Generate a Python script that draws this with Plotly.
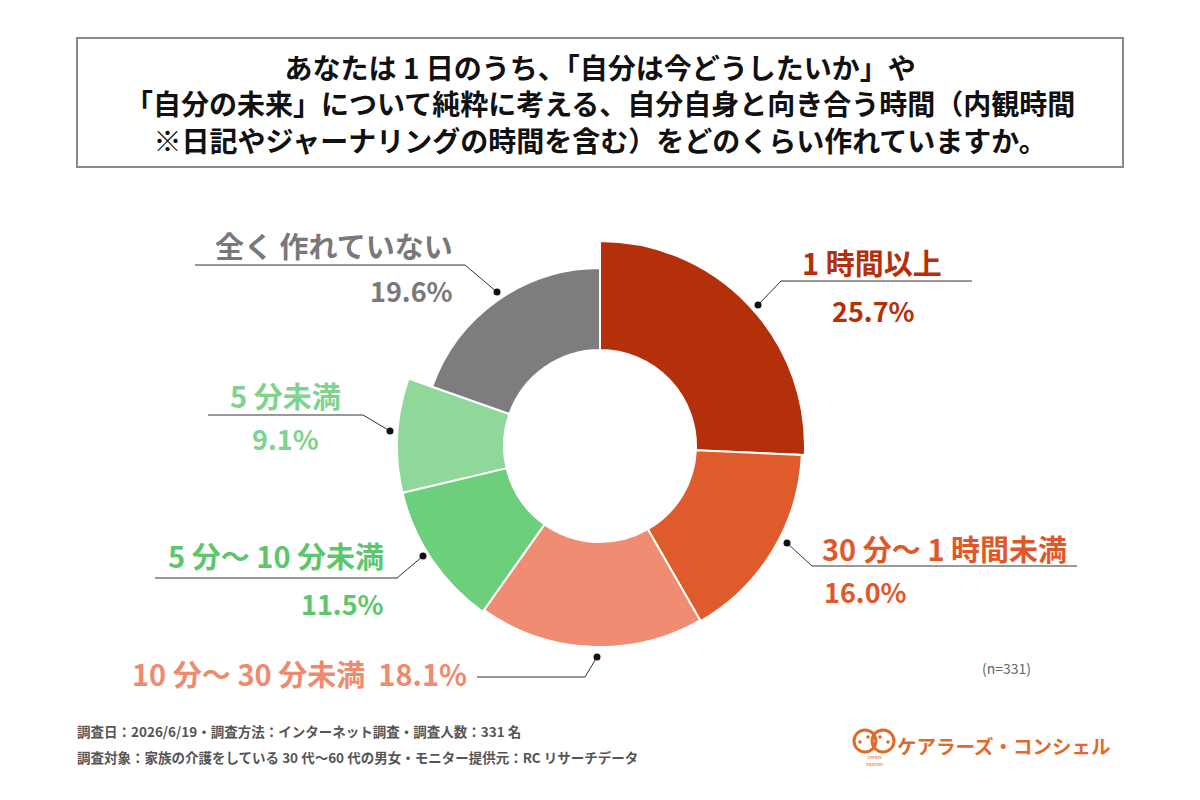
import plotly.graph_objects as go

# ---------------- data ----------------
CATEGORIES = ["1 時間以上", "30 分～ 1 時間未満", "10 分～ 30 分未満",
              "5 分～ 10 分未満", "5 分未満", "全く 作れていない"]
VALUES = [25.7, 16.0, 18.1, 11.5, 9.1, 19.6]
N_RESP = 331

TITLE_LINES = [
    "あなたは 1 日のうち、「自分は今どうしたいか」や",
    "「自分の未来」について純粋に考える、自分自身と向き合う時間（内観時間",
    "※日記やジャーナリングの時間を含む）をどのくらい作れていますか。",
]
FOOTER_LINES = [
    "調査日：2026/6/19・調査方法：インターネット調査・調査人数：331 名",
    "調査対象：家族の介護をしている 30 代～60 代の男女・モニター提供元：RC リサーチデータ",
]

# ---------------- style ----------------
W, H = 1200, 800
FONT = "Noto Sans CJK JP"
SLICE_COLORS = ["#b3300b", "#df5b2c", "#ef8c71", "#6dcf7c", "#8fd899", "#7f7c7f"]
LABEL_COLORS = ["#b3300b", "#e0582a", "#ef8a6c", "#5cc66b", "#7ed38d", "#7a787a"]
OUTER_R = [205, 202, 201, 203, 203, 178]   # pixel radius of each slice
INNER_R = 96
CX, CY, RBOX = 600, 446, 220


def px(x, y):
    return x / W, 1 - y / H


# angles
cum = 0
thetas, widths = [], []
for v in VALUES:
    thetas.append((cum + v / 2) * 3.6)
    widths.append(v * 3.6)
    cum += v

fig = go.Figure()
fig.add_trace(go.Barpolar(
    theta=thetas,
    width=widths,
    base=[INNER_R] * len(VALUES),
    r=[o - INNER_R for o in OUTER_R],
    marker=dict(color=SLICE_COLORS, line=dict(color="white", width=2)),
    hoverinfo="skip",
    showlegend=False,
))

x0, y1 = px(CX - RBOX, CY - RBOX)
x1, y0 = px(CX + RBOX, CY + RBOX)
fig.update_layout(
    width=W, height=H,
    margin=dict(l=0, r=0, t=0, b=0),
    paper_bgcolor="white",
    plot_bgcolor="white",
    font=dict(family=FONT),
    polar=dict(
        domain=dict(x=[x0, x1], y=[y0, y1]),
        bgcolor="white",
        radialaxis=dict(range=[0, RBOX], visible=False, showgrid=False),
        angularaxis=dict(rotation=90, direction="clockwise", visible=False,
                         showgrid=False, thetaunit="degrees"),
        bargap=0,
    ),
)

annotations = []
shapes = []

# title box
bx0, by0 = px(77, 38)
bx1, by1 = px(1123, 167)
shapes.append(dict(type="rect", xref="paper", yref="paper", x0=bx0, x1=bx1, y0=by1, y1=by0,
                   line=dict(color="#8a8a8a", width=2), fillcolor="rgba(0,0,0,0)"))
xx, yp = px(600, 103)
annotations.append(dict(x=xx, y=yp, xref="paper", yref="paper",
                        text="<br>".join(f"<b>{t}</b>" for t in TITLE_LINES),
                        showarrow=False, xanchor="center", yanchor="middle", align="center",
                        font=dict(size=28, color="#111111", family=FONT)))

# label layout: (name pos, pct pos, leader path points)
LABEL_LAYOUT = [
    dict(name=(872, 262, "center"), pct=(873, 311, "center"),
         path=[(758, 305), (781, 281), (972, 281)]),
    dict(name=(820, 548, "left"), pct=(822, 591, "left"),
         path=[(787, 543), (812, 566), (1077, 566)]),
    dict(name=(130, 673, "left"), pct=None,
         path=[(597, 657), (585, 677), (477, 677)]),
    dict(name=(386, 555, "right"), pct=(386, 603, "right"),
         path=[(423, 556), (397, 578), (155, 578)]),
    dict(name=(285, 395, "center"), pct=(285, 438, "center"),
         path=[(390, 431), (363, 415), (208, 415)]),
    dict(name=(455, 245, "right"), pct=(455, 290, "right"),
         path=[(497, 292), (465, 265), (195, 265)]),
]

for cat, val, col, lay in zip(CATEGORIES, VALUES, LABEL_COLORS, LABEL_LAYOUT):
    nx, ny, na = lay["name"]
    text = cat if lay["pct"] is not None else f"{cat}  {val:.1f}%"
    xx, yy = px(nx, ny)
    annotations.append(dict(x=xx, y=yy, xref="paper", yref="paper", text=f"<b>{text}</b>",
                            showarrow=False, xanchor=na, yanchor="middle",
                            font=dict(size=29, color=col, family=FONT)))
    if lay["pct"] is not None:
        qx, qy, qa = lay["pct"]
        xx, yy = px(qx, qy)
        annotations.append(dict(x=xx, y=yy, xref="paper", yref="paper",
                                text=f"<b>{val:.1f}%</b>",
                                showarrow=False, xanchor=qa, yanchor="middle",
                                font=dict(size=27, color=col, family=FONT)))
    pts = [px(a, b) for a, b in lay["path"]]
    path = "M " + " L ".join(f"{a},{b}" for a, b in pts)
    shapes.append(dict(type="path", xref="paper", yref="paper", path=path,
                       line=dict(color="#333333", width=1)))
    dx, dy = lay["path"][0]
    cx0, cy0 = px(dx - 3.5, dy - 3.5)
    cx1, cy1 = px(dx + 3.5, dy + 3.5)
    shapes.append(dict(type="circle", xref="paper", yref="paper", x0=cx0, x1=cx1, y0=cy1, y1=cy0,
                       fillcolor="#111111", line=dict(width=0)))

# n=
xx, yy = px(1006, 668)
annotations.append(dict(x=xx, y=yy, xref="paper", yref="paper", text=f"(n={N_RESP})",
                        showarrow=False, xanchor="center", yanchor="middle",
                        font=dict(size=14, color="#666666", family=FONT)))

# footer
for line, yy in zip(FOOTER_LINES, [731, 757]):
    xx, yp = px(75, yy)
    annotations.append(dict(x=xx, y=yp, xref="paper", yref="paper", text=f"<b>{line}</b>",
                            showarrow=False, xanchor="left", yanchor="middle",
                            font=dict(size=13.5, color="#555555", family=FONT)))

# logo
LOGO_COLOR = "#e0692b"
for lx in (865, 883):
    a0, b0 = px(lx - 11, 730)
    a1, b1 = px(lx + 11, 752)
    shapes.append(dict(type="circle", xref="paper", yref="paper", x0=a0, x1=a1, y0=b1, y1=b0,
                       line=dict(color=LOGO_COLOR, width=3)))
for dxp, dyp in [(868, 737), (880, 737), (874, 745), (860, 742), (888, 742)]:
    a0, b0 = px(dxp - 1.8, dyp - 1.8)
    a1, b1 = px(dxp + 1.8, dyp + 1.8)
    shapes.append(dict(type="circle", xref="paper", yref="paper", x0=a0, x1=a1, y0=b1, y1=b0,
                       fillcolor=LOGO_COLOR, line=dict(width=0)))
xx, yy = px(874, 760)
annotations.append(dict(x=xx, y=yy, xref="paper", yref="paper", text="carers<br>concier",
                        showarrow=False, xanchor="center", yanchor="middle",
                        font=dict(size=5, color=LOGO_COLOR, family=FONT)))
xx, yy = px(1004, 745)
annotations.append(dict(x=xx, y=yy, xref="paper", yref="paper", text="<b>ケアラーズ・コンシェル</b>",
                        showarrow=False, xanchor="center", yanchor="middle",
                        font=dict(size=19.5, color=LOGO_COLOR, family=FONT)))

fig.update_layout(annotations=annotations, shapes=shapes)
fig.write_html("out.html")
